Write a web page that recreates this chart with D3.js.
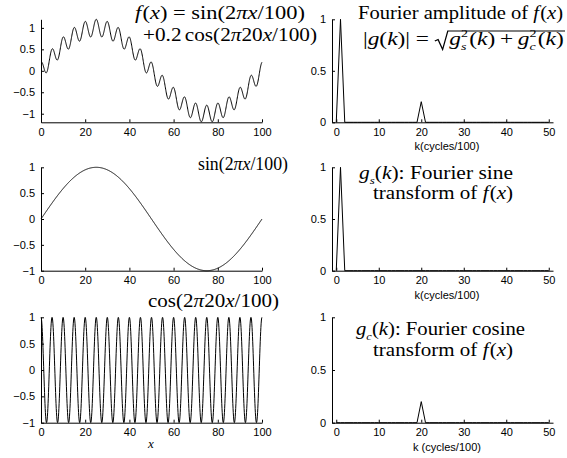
<!DOCTYPE html>
<html>
<head>
<meta charset="utf-8">
<script src="https://cdn.jsdelivr.net/npm/d3@7"></script>
<style>
  html, body { margin: 0; padding: 0; background: #fff; }
  svg { display: block; }
  .tick text { font-family: "Liberation Sans", Arial, sans-serif; font-size: 11px; fill: #000; }
  .axis path, .axis line { stroke: #000; stroke-width: 1; }
</style>
</head>
<body>
<svg id="chart" width="567" height="458"></svg>
<script>
// Wavenumbers k (cycles per 100 units of x)
const kValues = [0,1,2,3,4,5,6,7,8,9,10,11,12,13,14,15,16,17,18,19,20,21,22,23,24,25,
                 26,27,28,29,30,31,32,33,34,35,36,37,38,39,40,41,42,43,44,45,46,47,48,49,50];
// Fourier amplitude |g(k)|
const amplitudeSpectrum = [0,1,0,0,0,0,0,0,0,0,0,0,0,0,0,0,0,0,0,0,0.2,0,0,0,0,0,
                           0,0,0,0,0,0,0,0,0,0,0,0,0,0,0,0,0,0,0,0,0,0,0,0,0];
// Fourier sine transform g_s(k)
const sineSpectrum = [0,1,0,0,0,0,0,0,0,0,0,0,0,0,0,0,0,0,0,0,0,0,0,0,0,0,
                      0,0,0,0,0,0,0,0,0,0,0,0,0,0,0,0,0,0,0,0,0,0,0,0,0];
// Fourier cosine transform g_c(k)
const cosineSpectrum = [0,0,0,0,0,0,0,0,0,0,0,0,0,0,0,0,0,0,0,0,0.2,0,0,0,0,0,
                        0,0,0,0,0,0,0,0,0,0,0,0,0,0,0,0,0,0,0,0,0,0,0,0,0];

// Terms of the signal f(x) = sin(2*pi*x/100) + 0.2 cos(2*pi*20x/100)
const signalLength = 100;
const sineTerm = { amp: 1, cycles: 1 };
const cosineTerm = { amp: 0.2, cycles: 20 };
const sampleStep = 0.1;

// Tick values
const xTicks = [0, 20, 40, 60, 80, 100];
const yTicksSignal = [-1, -0.5, 0, 0.5, 1];
const kTicks = [0, 10, 20, 30, 40, 50];
const ampTicks = [0, 0.5, 1];

const SERIF = '"Liberation Serif", "Times New Roman", serif';
const SANS = '"Liberation Sans", Arial, sans-serif';

const svg = d3.select("#chart");

// Sampled signal curves
const xs = d3.range(0, signalLength + sampleStep / 2, sampleStep);
const sinPart = x => Math.sin(2 * Math.PI * sineTerm.cycles * x / signalLength);
const cosPart = x => Math.cos(2 * Math.PI * cosineTerm.cycles * x / signalLength);
const fullSignal = xs.map(x => ({ x, y: sineTerm.amp * sinPart(x) + cosineTerm.amp * cosPart(x) }));
const sineSignal = xs.map(x => ({ x, y: sinPart(x) }));
const cosineSignal = xs.map(x => ({ x, y: cosPart(x) }));

const rows = [
  { top: 19.3, bottom: 122.3, signal: fullSignal, yDomain: [-1.2, 1.2], spectrum: amplitudeSpectrum },
  { top: 167.3, bottom: 270.7, signal: sineSignal, yDomain: [-1, 1], spectrum: sineSpectrum },
  { top: 317.3, bottom: 422.7, signal: cosineSignal, yDomain: [-1, 1], spectrum: cosineSpectrum }
];

const leftRange = [41, 262];
const rightRange = [332, 553];
const fmt = d3.format("");

rows.forEach((row, i) => {
  // ---- signal panel ----
  const x = d3.scaleLinear().domain([0, signalLength]).range(leftRange);
  const y = d3.scaleLinear().domain(row.yDomain).range([row.bottom, row.top]);

  svg.append("path")
    .datum(row.signal)
    .attr("fill", "none").attr("stroke", "#000").attr("stroke-width", 1)
    .attr("d", d3.line().x(d => x(d.x)).y(d => y(d.y)));

  svg.append("g").attr("class", "axis")
    .attr("transform", `translate(0,${row.bottom})`)
    .call(d3.axisBottom(x).tickValues(xTicks).tickFormat(fmt).tickSizeInner(-3).tickSizeOuter(0).tickPadding(6));
  svg.append("g").attr("class", "axis")
    .attr("transform", `translate(${leftRange[0]},0)`)
    .call(d3.axisLeft(y).tickValues(yTicksSignal).tickFormat(fmt).tickSizeInner(-3).tickSizeOuter(0).tickPadding(6));

  // ---- spectrum panel ----
  const kx = d3.scaleLinear().domain([-1, 51]).range(rightRange);
  const ky = d3.scaleLinear().domain([0, 1]).range([row.bottom, row.top]);

  svg.append("path")
    .datum(kValues.map((k, j) => ({ k, v: row.spectrum[j] })))
    .attr("fill", "none").attr("stroke", "#000").attr("stroke-width", 1)
    .attr("d", d3.line().x(d => kx(d.k)).y(d => ky(d.v)));

  svg.append("g").attr("class", "axis")
    .attr("transform", `translate(0,${row.bottom})`)
    .call(d3.axisBottom(kx).tickValues(kTicks).tickFormat(fmt).tickSizeInner(-3).tickSizeOuter(0).tickPadding(6));
  svg.append("g").attr("class", "axis")
    .attr("transform", `translate(${rightRange[0]},0)`)
    .call(d3.axisLeft(ky).tickValues(ampTicks).tickFormat(fmt).tickSizeInner(-3).tickSizeOuter(0).tickPadding(6));

  svg.append("text")
    .attr("x", 447).attr("y", row.bottom + 28)
    .attr("text-anchor", "middle")
    .attr("font-family", SANS).attr("font-size", 11)
    .text(i === 2 ? "k (cycles/100)" : "k(cycles/100)");
});

// x label under the bottom-left panel
svg.append("text")
  .attr("x", 151).attr("y", 448)
  .attr("text-anchor", "middle")
  .attr("font-family", SERIF).attr("font-size", 13).attr("font-style", "italic")
  .text("x");

// Lay out one line of math-style text (single <text> with positioned tspans),
// stretched horizontally to span [x0, x1].
function mathLine(runs, x0, x1, baseline, size) {
  const grp = svg.append("g");
  const text = grp.append("text")
    .attr("font-family", SERIF)
    .attr("font-size", size)
    .attr("xml:space", "preserve")
    .style("white-space", "pre");
  let pos = 0, prevStart = 0, prevW = 0, radStart = null, radEnd = null;
  runs.forEach(r => {
    if (r.gap) { pos += r.gap * size; return; }
    if (r.radOpen) { radStart = pos; pos += 0.62 * size; return; }
    if (r.radClose) { radEnd = pos + 1; pos += 1; return; }
    const fs = size * (r.scale || 1);
    const start = r.stack ? prevStart : pos;
    const t = text.append("tspan")
      .attr("x", start)
      .attr("y", baseline + (r.shift || 0) * size)
      .attr("font-size", fs)
      .attr("font-style", r.it ? "italic" : "normal")
      .text(r.t);
    const w = t.node().getComputedTextLength();
    if (r.stack) {
      pos = prevStart + Math.max(prevW, w) + (r.after || 0);
    } else {
      prevStart = start; prevW = w; pos = start + w + (r.after || 0);
    }
  });
  if (radStart !== null) {
    const b = baseline, a = radStart;
    grp.append("path")
      .attr("fill", "none").attr("stroke", "#000").attr("stroke-width", 1)
      .attr("d", `M${a},${b - 4} L${a + 2.5},${b - 5.5} L${a + 6},${b + 4.5} L${a + 10},${b - 14} L${radEnd},${b - 14}`);
  }
  const sx = (x1 - x0) / pos;
  grp.attr("transform", `translate(${x0},0) scale(${sx},1)`);
}

const fs = 18;
const SUP = { scale: 0.6, shift: -0.45 };
const SUB = { scale: 0.6, shift: 0.3 };
// f(x) = sin(2πx/100) + 0.2 cos(2π20x/100)
mathLine([{ t: "f", it: true, after: 1 }, { t: "(" }, { t: "x", it: true }, { t: ")" }, { gap: 0.25 },
          { t: "=" }, { gap: 0.25 }, { t: "sin(2" },
          { t: "π", it: true }, { t: "x", it: true }, { t: "/100)" }], 135, 305, 19, fs);
mathLine([{ t: "+0.2" }, { gap: 0.15 }, { t: "cos(2" }, { t: "π", it: true }, { t: "20" }, { t: "x", it: true }, { t: "/100)" }], 143, 317, 41, fs);
// sin(2πx/100)
mathLine([{ t: "sin(2" }, { t: "π", it: true }, { t: "x", it: true }, { t: "/100)" }], 198, 288, 170, fs);
// cos(2π20x/100)
mathLine([{ t: "cos(2" }, { t: "π", it: true }, { t: "20" }, { t: "x", it: true }, { t: "/100)" }], 148, 279, 307, fs);

// Fourier amplitude of f(x)
mathLine([{ t: "Fourier amplitude of " }, { t: "f", it: true, after: 1 }, { t: "(" }, { t: "x", it: true }, { t: ")" }], 358, 563, 19, fs);
// |g(k)| = sqrt(g_s^2(k) + g_c^2(k))
mathLine([{ t: "|" }, { t: "g", it: true }, { t: "(" }, { t: "k", it: true }, { t: ")|" }, { gap: 0.25 }, { t: "=" }, { gap: 0.25 },
          { radOpen: true },
          { t: "g", it: true }, Object.assign({ t: "2" }, SUP), Object.assign({ t: "s", it: true, stack: true, after: 1 }, SUB),
          { t: "(" }, { t: "k", it: true }, { t: ")" }, { gap: 0.2 }, { t: "+" }, { gap: 0.2 },
          { t: "g", it: true }, Object.assign({ t: "2" }, SUP), Object.assign({ t: "c", it: true, stack: true, after: 1 }, SUB),
          { t: "(" }, { t: "k", it: true }, { t: ")" },
          { radClose: true }], 363, 565, 45, fs);

// g_s(k): Fourier sine transform of f(x)
mathLine([{ t: "g", it: true }, Object.assign({ t: "s", it: true }, SUB), { t: "(" }, { t: "k", it: true }, { t: "): Fourier sine" }], 359, 513, 179, fs);
mathLine([{ t: "transform of " }, { t: "f", it: true, after: 1 }, { t: "(" }, { t: "x", it: true }, { t: ")" }], 373, 513, 199, fs);

// g_c(k): Fourier cosine transform of f(x)
mathLine([{ t: "g", it: true }, Object.assign({ t: "c", it: true }, SUB), { t: "(" }, { t: "k", it: true }, { t: "): Fourier cosine" }], 356, 525, 335, fs);
mathLine([{ t: "transform of " }, { t: "f", it: true, after: 1 }, { t: "(" }, { t: "x", it: true }, { t: ")" }], 373, 513, 356, fs);
</script>
</body>
</html>
